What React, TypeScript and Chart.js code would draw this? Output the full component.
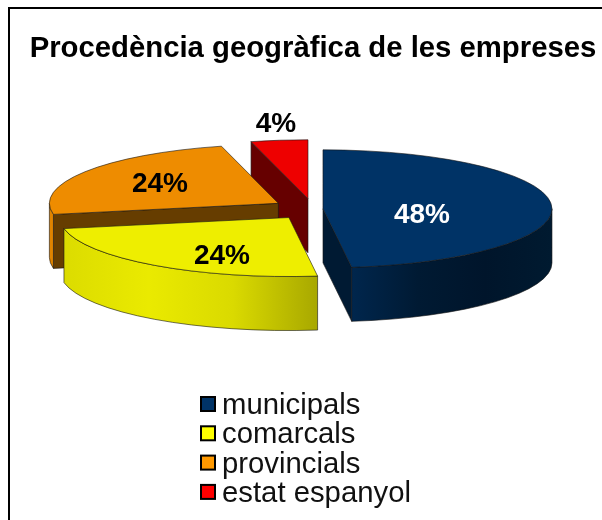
import React, { useEffect, useRef } from "react";
import { Chart, registerables } from "chart.js";

Chart.register(...registerables);

const TITLE = "Procedència geogràfica de les empreses";
const CATEGORIES = ["municipals", "comarcals", "provincials", "estat espanyol"];
const VALUES = [48, 24, 24, 4];
const TOP_COLORS = ["#003366", "#eeee00", "#ee8c00", "#ee0000"];
const LEGEND_COLORS = ["#003366", "#ffff00", "#ff9900", "#ff0000"];
const FACE_COLORS = ["#001a33", "#b0b000", "#663d00", "#660000"];
const WALL_STOPS = [
  ["#00264d", "#001a33", "#00152b", "#001a30"],
  ["#dcdc00", "#eaea00", "#dada00", "#a8a800"],
  ["#e08400", "#e08400", "#e08400", "#e08400"],
  ["#990000", "#990000", "#990000", "#990000"],
];
const VALUE_COLORS = ["#ffffff", "#000000", "#000000", "#000000"];
const VALUE_POS = [
  [422, 215],
  [222, 256],
  [160, 184],
  [276, 124],
];
const EXPLODE = [10, 41, 41, 40];
const DRAW_ORDER = [3, 2, 0, 1];

const RADIUS = 229;
const SQUASH = 59 / 229;
const DEPTH = 54;
const CENTER_X = 313;
const CENTER_Y = 209;

const pie3d = {
  id: "pie3d",
  beforeDatasetDraw(chart: any) {
    const ctx = chart.ctx;
    const arcs = chart.getDatasetMeta(0).data;
    for (const i of DRAW_ORDER) {
      const arc = arcs[i];
      const start = arc.startAngle;
      const end = arc.endAngle;
      const mid = (start + end) / 2;
      const r = arc.outerRadius;
      const ry = r * SQUASH;
      const px = CENTER_X + Math.cos(mid) * EXPLODE[i];
      const py = CENTER_Y + Math.sin(mid) * EXPLODE[i] * SQUASH;
      const rim = (a: number) => [px + Math.cos(a) * r, py + Math.sin(a) * ry];

      ctx.save();
      ctx.lineWidth = 0.8;
      ctx.strokeStyle = "rgba(20,20,20,0.75)";
      const face = (a: number) => {
        const [x, y] = rim(a);
        ctx.beginPath();
        ctx.moveTo(px, py);
        ctx.lineTo(x, y);
        ctx.lineTo(x, y + DEPTH);
        ctx.lineTo(px, py + DEPTH);
        ctx.closePath();
        ctx.fillStyle = FACE_COLORS[i];
        ctx.fill();
        ctx.stroke();
      };
      if (Math.cos(start) < -1e-6) face(start);
      if (Math.cos(end) > 1e-6) face(end);

      const wallFrom = Math.max(start, 0);
      const wallTo = Math.min(end, Math.PI);
      if (wallTo > wallFrom) {
        const [x1] = rim(wallTo);
        const [x0] = rim(wallFrom);
        const g = ctx.createLinearGradient(Math.min(x0, x1), 0, Math.max(x0, x1, px + r * Math.cos(Math.max(wallFrom, 0))), 0);
        WALL_STOPS[i].forEach((c, k) => g.addColorStop(k / 3, c));
        ctx.beginPath();
        ctx.ellipse(px, py, r, ry, 0, wallFrom, wallTo);
        ctx.ellipse(px, py + DEPTH, r, ry, 0, wallTo, wallFrom, true);
        ctx.closePath();
        ctx.fillStyle = g;
        ctx.fill();
        ctx.stroke();
      }

      ctx.save();
      ctx.translate(px, py);
      ctx.scale(1, SQUASH);
      ctx.translate(-arc.x, -arc.y);
      arc.draw(ctx);
      ctx.restore();

      ctx.beginPath();
      ctx.moveTo(px, py);
      ctx.ellipse(px, py, r, ry, 0, start, end);
      ctx.closePath();
      ctx.stroke();
      ctx.restore();
    }
    return false;
  },
  afterDatasetsDraw(chart: any) {
    const ctx = chart.ctx;
    ctx.save();
    ctx.textAlign = "center";
    ctx.textBaseline = "middle";
    ctx.font = "bold 28px 'Liberation Sans'";
    VALUES.forEach((v, i) => {
      ctx.fillStyle = VALUE_COLORS[i];
      ctx.fillText(`${v}%`, VALUE_POS[i][0], VALUE_POS[i][1]);
    });
    ctx.restore();
  },
};

const frameAndLegend = {
  id: "frameAndLegend",
  afterLayout(chart: any) {
    const t = chart.titleBlock;
    if (t) {
      t.left = 0;
      t.right = CENTER_X * 2;
      t.width = CENTER_X * 2;
    }
  },
  afterDraw(chart: any) {
    const ctx = chart.ctx;
    ctx.save();
    ctx.fillStyle = "#000000";
    ctx.fillRect(8, 7, 594, 2);
    ctx.fillRect(8, 7, 2, 513);
    ctx.font = "29.3px 'Liberation Sans'";
    ctx.textAlign = "left";
    ctx.textBaseline = "alphabetic";
    CATEGORIES.forEach((label, i) => {
      const rowY = 404 + i * 29.3;
      ctx.fillStyle = LEGEND_COLORS[i];
      ctx.strokeStyle = "#000000";
      ctx.lineWidth = 2;
      ctx.fillRect(201, rowY - 7, 14, 14);
      ctx.strokeRect(201, rowY - 7, 14, 14);
      ctx.fillStyle = "#111111";
      ctx.fillText(label, 222, rowY + 10);
    });
    ctx.restore();
  },
};

export default function App() {
  const ref = useRef<HTMLCanvasElement>(null);
  useEffect(() => {
    document.body.style.margin = "0";
    const chart = new Chart(ref.current as HTMLCanvasElement, {
      type: "pie",
      data: {
        labels: CATEGORIES,
        datasets: [
          {
            data: VALUES,
            backgroundColor: TOP_COLORS,
            borderWidth: 0,
          },
        ],
      },
      options: {
        responsive: false,
        animation: false,
        events: [],
        radius: RADIUS,
        plugins: {
          legend: { display: false },
          tooltip: { enabled: false },
          title: {
            display: true,
            text: TITLE,
            color: "#000000",
            font: { family: "'Liberation Sans'", size: 29.3, weight: "bold", lineHeight: 1 },
            padding: { top: 34, bottom: 0 },
          },
        },
      } as any,
      plugins: [pie3d, frameAndLegend],
    });
    return () => chart.destroy();
  }, []);
  return <canvas ref={ref} width={602} height={520} style={{ display: "block", filter: "blur(0.4px)" }} />;
}
